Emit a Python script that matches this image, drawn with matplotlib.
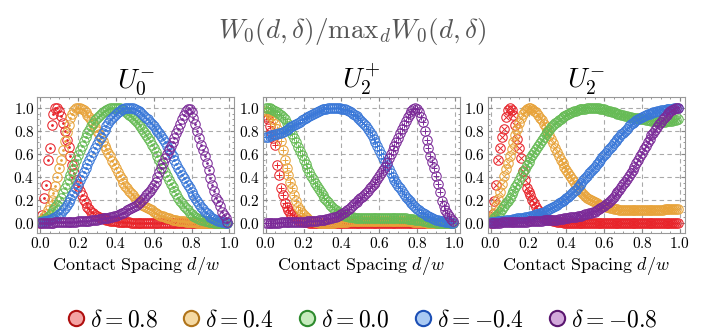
import numpy as np
import matplotlib
matplotlib.use("Agg")
import matplotlib.pyplot as plt
from matplotlib.lines import Line2D

plt.rcParams['mathtext.fontset'] = 'cm'
plt.rcParams['font.family'] = 'serif'

# sample positions d/w (0.00 ... 0.99)
d = np.arange(100) / 100.0

deltas = ['0.8', '0.4', '0.0', '-0.4', '-0.8']
line_cols = ['#e8242a', '#e8a33a', '#66bb55', '#3a78d8', '#7b2a98']
face_cols = ['#f4a3a3', '#f5d9a2', '#c6ebbd', '#a9c9f2', '#d2a8db']
edge_cols = ['#b01010', '#b0741a', '#2e8b2e', '#1c4fb5', '#5a1670']

panel_titles = [r'$U_{\mathbf{0}}^{-}$', r'$U_{\mathbf{2}}^{+}$', r'$U_{\mathbf{2}}^{-}$']
inner_markers = ['.', '+', 'x']

# ---- U0- ----
u0m_red = [0.0, 0.07, 0.22, 0.33, 0.55, 0.65, 0.85, 0.95, 1.0, 1.0,
           0.97, 0.93, 0.87, 0.8, 0.72, 0.66, 0.58, 0.5, 0.43, 0.37,
           0.32, 0.28, 0.24, 0.2, 0.17, 0.14, 0.12, 0.1, 0.085, 0.07,
           0.06, 0.05, 0.045, 0.04, 0.035, 0.03, 0.025, 0.02, 0.02, 0.015,
           0.015, 0.01, 0.01, 0.01, 0.005, 0.005, 0.005, 0.005, 0, 0] + [0] * 50
u0m_orange = [0.02, 0.03, 0.05, 0.08, 0.11, 0.15, 0.2, 0.26, 0.32, 0.4,
              0.48, 0.55, 0.63, 0.71, 0.79, 0.85, 0.91, 0.95, 0.98, 0.995,
              1.0, 1.0, 0.99, 0.98, 0.96, 0.94, 0.92, 0.89, 0.86, 0.83,
              0.8, 0.77, 0.74, 0.71, 0.67, 0.64, 0.61, 0.58, 0.54, 0.51,
              0.48, 0.44, 0.41, 0.38, 0.35, 0.32, 0.3, 0.28, 0.26, 0.24,
              0.22, 0.2, 0.19, 0.17, 0.16, 0.15, 0.14, 0.13, 0.12, 0.11,
              0.1, 0.09, 0.08, 0.07, 0.065, 0.06, 0.05, 0.045, 0.04, 0.035,
              0.03, 0.03, 0.025, 0.02, 0.02, 0.015, 0.015, 0.01, 0.01, 0.01,
              0.005, 0.005, 0.005, 0, 0, 0, 0, 0, 0, 0] + [0] * 10
u0m_green = [0.015, 0.02, 0.03, 0.04, 0.055, 0.07, 0.09, 0.11, 0.135, 0.16,
             0.19, 0.22, 0.26, 0.3, 0.34, 0.38, 0.42, 0.46, 0.5, 0.55,
             0.59, 0.63, 0.67, 0.71, 0.745, 0.78, 0.81, 0.84, 0.865, 0.89,
             0.91, 0.93, 0.945, 0.96, 0.97, 0.98, 0.99, 0.995, 1.0, 1.0,
             1.0, 1.0, 0.995, 0.99, 0.98, 0.97, 0.955, 0.94, 0.925, 0.91,
             0.895, 0.88, 0.86, 0.84, 0.815, 0.79, 0.765, 0.74, 0.71, 0.68,
             0.65, 0.62, 0.585, 0.55, 0.515, 0.48, 0.445, 0.41, 0.375, 0.34,
             0.31, 0.28, 0.25, 0.22, 0.195, 0.17, 0.15, 0.13, 0.11, 0.09,
             0.075, 0.065, 0.055, 0.045, 0.035, 0.03, 0.025, 0.02, 0.015, 0.01,
             0.008, 0.005, 0.003, 0, 0, 0, 0, 0, 0, 0]
u0m_blue = [0.01, 0.01, 0.015, 0.02, 0.025, 0.03, 0.035, 0.04, 0.05, 0.06,
            0.075, 0.09, 0.11, 0.13, 0.155, 0.18, 0.21, 0.24, 0.27, 0.3,
            0.335, 0.37, 0.405, 0.44, 0.475, 0.51, 0.545, 0.58, 0.615, 0.65,
            0.685, 0.72, 0.75, 0.78, 0.81, 0.84, 0.865, 0.89, 0.91, 0.93,
            0.945, 0.96, 0.975, 0.985, 0.992, 0.997, 1.0, 1.0, 0.998, 0.995,
            0.99, 0.98, 0.97, 0.96, 0.945, 0.93, 0.915, 0.9, 0.88, 0.86,
            0.84, 0.82, 0.8, 0.78, 0.755, 0.73, 0.7, 0.67, 0.64, 0.61,
            0.58, 0.55, 0.515, 0.48, 0.45, 0.42, 0.39, 0.36, 0.33, 0.3,
            0.27, 0.24, 0.215, 0.19, 0.165, 0.14, 0.12, 0.1, 0.085, 0.07,
            0.055, 0.045, 0.035, 0.03, 0.02, 0.015, 0.01, 0.005, 0.003, 0.0]
u0m_purple = [0, 0, 0, 0, 0, 0, 0, 0, 0.005, 0.005,
              0.005, 0.005, 0.005, 0.005, 0.01, 0.01, 0.01, 0.01, 0.01, 0.01,
              0.015, 0.015, 0.015, 0.015, 0.02, 0.02, 0.02, 0.025, 0.025, 0.03,
              0.03, 0.035, 0.035, 0.04, 0.04, 0.045, 0.045, 0.05, 0.055, 0.06,
              0.065, 0.07, 0.08, 0.085, 0.09, 0.1, 0.11, 0.12, 0.13, 0.14,
              0.15, 0.16, 0.17, 0.185, 0.2, 0.22, 0.24, 0.26, 0.28, 0.3,
              0.33, 0.36, 0.4, 0.44, 0.48, 0.52, 0.56, 0.6, 0.635, 0.67,
              0.705, 0.74, 0.78, 0.82, 0.86, 0.9, 0.94, 0.97, 0.99, 0.99,
              0.96, 0.91, 0.86, 0.8, 0.74, 0.68, 0.63, 0.58, 0.52, 0.46,
              0.39, 0.33, 0.28, 0.22, 0.19, 0.15, 0.1, 0.07, 0.04, 0.01]

# ---- U2+ ----
u2p_red = [0.93, 0.9, 0.84, 0.79, 0.74, 0.68, 0.5, 0.42, 0.3, 0.24,
           0.17, 0.14, 0.11, 0.09, 0.07, 0.05, 0.04, 0.03, 0.02, 0.015,
           0.01, 0.005, 0.005, 0, 0, 0, 0, 0, 0, 0] + [0] * 70
u2p_orange = [0.97, 0.96, 0.95, 0.93, 0.9, 0.86, 0.82, 0.78, 0.71, 0.63,
              0.55, 0.48, 0.42, 0.36, 0.3, 0.24, 0.19, 0.14, 0.11, 0.09,
              0.07, 0.055, 0.04, 0.03, 0.02, 0.015, 0.01, 0.005, 0, 0,
              0, 0, 0, 0, 0, 0, 0, 0.005, 0.005, 0.005,
              0.01, 0.01, 0.01, 0.01, 0.015, 0.015, 0.015, 0.015, 0.02, 0.02,
              0.02, 0.02, 0.02, 0.02, 0.02, 0.02, 0.02, 0.02, 0.02, 0.02,
              0.02, 0.02, 0.02, 0.02, 0.02, 0.02, 0.02, 0.02, 0.02, 0.02,
              0.02, 0.02, 0.02, 0.02, 0.015, 0.015, 0.015, 0.015, 0.01, 0.01,
              0.01, 0.01, 0.005, 0.005, 0.005, 0, 0, 0, 0, 0] + [0] * 10
u2p_green = [1.0, 1.0, 0.995, 0.99, 0.98, 0.97, 0.96, 0.95, 0.935, 0.92,
             0.9, 0.87, 0.84, 0.81, 0.775, 0.74, 0.7, 0.66, 0.625, 0.59,
             0.55, 0.51, 0.475, 0.44, 0.41, 0.38, 0.35, 0.32, 0.295, 0.27,
             0.245, 0.22, 0.2, 0.18, 0.16, 0.14, 0.125, 0.11, 0.1, 0.09,
             0.08, 0.07, 0.065, 0.06, 0.055, 0.05, 0.048, 0.045, 0.042, 0.04,
             0.04, 0.04, 0.04, 0.04, 0.04, 0.04, 0.04, 0.04, 0.04, 0.04,
             0.04, 0.04, 0.04, 0.04, 0.04, 0.04, 0.04, 0.04, 0.04, 0.04,
             0.04, 0.04, 0.04, 0.04, 0.04, 0.038, 0.036, 0.035, 0.032, 0.03,
             0.028, 0.025, 0.022, 0.02, 0.017, 0.015, 0.012, 0.01, 0.007, 0.005,
             0.003, 0, 0, 0, 0, 0, 0, 0, 0, 0]
u2p_blue = [0.75, 0.75, 0.755, 0.76, 0.765, 0.77, 0.775, 0.78, 0.785, 0.79,
            0.8, 0.81, 0.82, 0.83, 0.84, 0.85, 0.86, 0.87, 0.88, 0.89,
            0.9, 0.91, 0.92, 0.93, 0.94, 0.95, 0.958, 0.965, 0.973, 0.98,
            0.985, 0.99, 0.993, 0.995, 0.998, 1.0, 1.0, 1.0, 1.0, 0.995,
            0.993, 0.99, 0.985, 0.98, 0.97, 0.96, 0.95, 0.94, 0.925, 0.91,
            0.895, 0.88, 0.86, 0.84, 0.815, 0.79, 0.76, 0.73, 0.7, 0.67,
            0.635, 0.6, 0.565, 0.53, 0.5, 0.47, 0.435, 0.4, 0.375, 0.35,
            0.325, 0.3, 0.275, 0.25, 0.23, 0.21, 0.19, 0.17, 0.155, 0.14,
            0.125, 0.11, 0.097, 0.085, 0.075, 0.065, 0.057, 0.05, 0.042, 0.035,
            0.03, 0.025, 0.021, 0.018, 0.014, 0.01, 0.007, 0.005, 0.003, 0.0]
u2p_purple = [0, 0, 0, 0, 0, 0, 0, 0, 0.005, 0.005,
              0.005, 0.005, 0.005, 0.008, 0.01, 0.01, 0.01, 0.01, 0.012, 0.012,
              0.012, 0.012, 0.014, 0.015, 0.017, 0.018, 0.019, 0.02, 0.022, 0.025,
              0.027, 0.03, 0.032, 0.035, 0.04, 0.045, 0.05, 0.055, 0.062, 0.07,
              0.077, 0.085, 0.097, 0.11, 0.125, 0.14, 0.155, 0.17, 0.185, 0.2,
              0.215, 0.23, 0.245, 0.26, 0.28, 0.3, 0.32, 0.34, 0.36, 0.38,
              0.405, 0.43, 0.46, 0.49, 0.525, 0.56, 0.595, 0.63, 0.665, 0.7,
              0.74, 0.78, 0.815, 0.85, 0.885, 0.92, 0.945, 0.97, 0.985, 1.0,
              0.99, 0.96, 0.92, 0.88, 0.8, 0.72, 0.65, 0.58, 0.53, 0.48,
              0.41, 0.34, 0.27, 0.19, 0.15, 0.11, 0.085, 0.06, 0.035, 0.015]

# ---- U2- ----
u2m_red = [0.0, 0.08, 0.19, 0.33, 0.55, 0.65, 0.75, 0.82, 0.92, 0.98,
           1.0, 0.98, 0.94, 0.85, 0.73, 0.65, 0.56, 0.45, 0.37, 0.3,
           0.27, 0.24, 0.2, 0.17, 0.14, 0.11, 0.085, 0.065, 0.05, 0.04,
           0.035, 0.03, 0.025, 0.02, 0.015, 0.012, 0.01, 0.007, 0.005, 0.003] + [0] * 60
u2m_orange = [0.02, 0.05, 0.09, 0.15, 0.21, 0.27, 0.34, 0.41, 0.47, 0.52,
              0.58, 0.64, 0.7, 0.76, 0.82, 0.87, 0.91, 0.95, 0.975, 0.99,
              1.0, 1.0, 0.99, 0.975, 0.96, 0.94, 0.915, 0.89, 0.86, 0.83,
              0.795, 0.76, 0.725, 0.69, 0.655, 0.62, 0.585, 0.55, 0.52, 0.49,
              0.46, 0.43, 0.405, 0.38, 0.355, 0.33, 0.31, 0.29, 0.27, 0.25,
              0.235, 0.22, 0.21, 0.2, 0.19, 0.18, 0.17, 0.16, 0.155, 0.15,
              0.145, 0.14, 0.135, 0.13, 0.127, 0.125, 0.122, 0.12, 0.117, 0.115,
              0.112, 0.11, 0.11, 0.11, 0.11, 0.11, 0.11, 0.11, 0.11, 0.11,
              0.11, 0.11, 0.11, 0.11, 0.11, 0.112, 0.113, 0.114, 0.115, 0.115,
              0.116, 0.117, 0.118, 0.118, 0.119, 0.12, 0.12, 0.12, 0.12, 0.12]
u2m_green = [0.01, 0.02, 0.04, 0.06, 0.08, 0.1, 0.125, 0.15, 0.17, 0.19,
             0.22, 0.25, 0.28, 0.31, 0.34, 0.37, 0.405, 0.44, 0.47, 0.5,
             0.53, 0.56, 0.59, 0.62, 0.645, 0.67, 0.695, 0.72, 0.745, 0.77,
             0.79, 0.81, 0.83, 0.85, 0.865, 0.88, 0.893, 0.905, 0.918, 0.93,
             0.94, 0.95, 0.958, 0.965, 0.97, 0.975, 0.98, 0.985, 0.988, 0.99,
             0.993, 0.995, 0.998, 1.0, 1.0, 1.0, 0.998, 0.995, 0.993, 0.99,
             0.985, 0.98, 0.975, 0.97, 0.965, 0.96, 0.955, 0.95, 0.945, 0.94,
             0.935, 0.93, 0.925, 0.92, 0.917, 0.915, 0.912, 0.91, 0.907, 0.905,
             0.902, 0.9, 0.897, 0.895, 0.89, 0.885, 0.885, 0.883, 0.882, 0.88,
             0.88, 0.88, 0.88, 0.882, 0.884, 0.886, 0.888, 0.89, 0.895, 0.9]
u2m_blue = [0.005, 0.005, 0.01, 0.01, 0.015, 0.015, 0.02, 0.02, 0.025, 0.025,
            0.03, 0.03, 0.035, 0.035, 0.04, 0.04, 0.045, 0.045, 0.05, 0.05,
            0.055, 0.06, 0.065, 0.07, 0.075, 0.08, 0.085, 0.09, 0.095, 0.1,
            0.11, 0.12, 0.13, 0.14, 0.15, 0.16, 0.17, 0.18, 0.19, 0.2,
            0.215, 0.23, 0.245, 0.26, 0.275, 0.29, 0.31, 0.33, 0.35, 0.37,
            0.39, 0.41, 0.43, 0.45, 0.47, 0.49, 0.51, 0.53, 0.55, 0.57,
            0.59, 0.61, 0.63, 0.65, 0.67, 0.69, 0.71, 0.73, 0.75, 0.77,
            0.785, 0.8, 0.82, 0.84, 0.855, 0.87, 0.88, 0.89, 0.9, 0.91,
            0.92, 0.93, 0.94, 0.945, 0.95, 0.955, 0.96, 0.965, 0.97, 0.975,
            0.978, 0.98, 0.983, 0.985, 0.988, 0.99, 0.993, 0.995, 0.998, 1.0]
u2m_purple = [0, 0, 0, 0, 0, 0, 0.005, 0.005, 0.005, 0.005,
              0.005, 0.005, 0.008, 0.01, 0.01, 0.01, 0.01, 0.01, 0.012, 0.012,
              0.014, 0.015, 0.015, 0.015, 0.018, 0.02, 0.02, 0.02, 0.022, 0.025,
              0.025, 0.025, 0.028, 0.03, 0.03, 0.03, 0.032, 0.035, 0.038, 0.04,
              0.042, 0.045, 0.048, 0.05, 0.052, 0.055, 0.058, 0.06, 0.065, 0.07,
              0.075, 0.08, 0.085, 0.09, 0.095, 0.1, 0.11, 0.12, 0.13, 0.14,
              0.152, 0.165, 0.178, 0.19, 0.21, 0.23, 0.25, 0.27, 0.29, 0.31,
              0.335, 0.36, 0.385, 0.41, 0.435, 0.46, 0.49, 0.52, 0.55, 0.58,
              0.61, 0.64, 0.67, 0.7, 0.73, 0.76, 0.785, 0.81, 0.835, 0.86,
              0.88, 0.9, 0.92, 0.94, 0.955, 0.97, 0.98, 0.99, 0.995, 1.0]

panels = [
    [u0m_red, u0m_orange, u0m_green, u0m_blue, u0m_purple],
    [u2p_red, u2p_orange, u2p_green, u2p_blue, u2p_purple],
    [u2m_red, u2m_orange, u2m_green, u2m_blue, u2m_purple],
]

tick_vals = [0.0, 0.2, 0.4, 0.6, 0.8, 1.0]
tick_labels = ['$0.0$', '$0.2$', '$0.4$', '$0.6$', '$0.8$', '$1.0$']

fig = plt.figure(figsize=(7.05, 3.35), dpi=100)
lefts = [0.053, 0.373, 0.692]
for k in range(3):
    ax = fig.add_axes([lefts[k], 0.305, 0.279, 0.406])
    for ys, c in zip(panels[k], line_cols):
        ax.plot(d, ys, 'o', mfc='none', mec=c, ms=6.8, mew=0.75)
        if inner_markers[k] == '.':
            ax.plot(d, ys, '.', color=c, ms=2.0)
        else:
            ax.plot(d, ys, inner_markers[k], color=c, ms=4.3, mew=0.7)
    ax.set_xlim(-0.015, 1.025)
    ax.set_ylim(-0.085, 1.095)
    ax.set_xticks(tick_vals)
    ax.set_xticklabels(tick_labels, fontsize=11)
    ax.set_yticks(tick_vals)
    ax.set_yticklabels(tick_labels, fontsize=11)
    ax.set_xticks(np.arange(0, 1.01, 0.05), minor=True)
    ax.set_yticks(np.arange(0, 1.01, 0.05), minor=True)
    ax.tick_params(which='both', direction='in', color='#888888', pad=2,
                   top=True, right=True)
    ax.tick_params(which='major', length=3)
    ax.tick_params(which='minor', length=1.5)
    ax.grid(True, which='major', color='#aaaaaa', ls=(0, (4, 3)), lw=0.8)
    for s in ax.spines.values():
        s.set_color('#999999')
    ax.set_xlabel(r'$\mathrm{Contact\ Spacing}\ d/w$', fontsize=13, labelpad=3)
    ax.set_title(panel_titles[k], fontsize=20, pad=6)

fig.text(0.5, 0.905, r'$W_{\mathbf{0}}(d,\delta)/\mathrm{max}_d W_{\mathbf{0}}(d,\delta)$',
         ha='center', va='center', fontsize=19.5, color='#555555')

handles = [Line2D([], [], ls='none', marker='o', ms=11, mfc=fc, mec=ec, mew=1.5)
           for fc, ec in zip(face_cols, edge_cols)]
labels = [r'$\delta = %s$' % v for v in deltas]
fig.legend(handles, labels, loc='center', bbox_to_anchor=(0.51, 0.045), ncol=5,
           frameon=False, fontsize=17, handletextpad=0.0, columnspacing=0.8,
           handlelength=1.2)

fig.savefig('out.png', dpi=100)
